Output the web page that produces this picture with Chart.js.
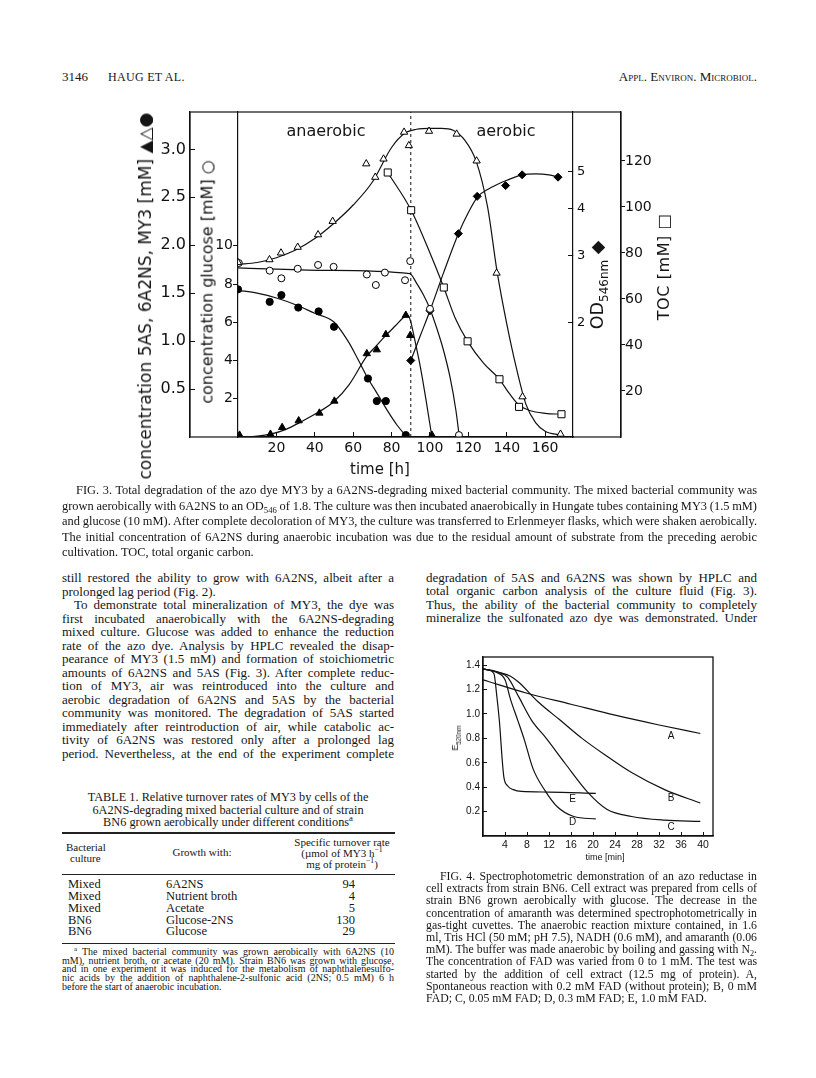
<!DOCTYPE html>
<html>
<head>
<meta charset="utf-8">
<script src="https://cdn.jsdelivr.net/npm/chart.js@4.4.1/dist/chart.umd.min.js"></script>
<style>
  html, body { margin: 0; padding: 0; background: #fff; }
  #page { position: relative; width: 816px; height: 1078px; overflow: hidden; background: #fff; color: #151515; }
  .ln { position: absolute; line-height: 16px; white-space: nowrap; font-family: 'Liberation Serif', serif; }
  .fn { line-height: 9px; }
  .sans { font-family: 'DejaVu Sans', sans-serif; }
  .rot { position: absolute; white-space: nowrap; transform: translate(-50%, -50%) rotate(-90deg); }
  .rule { position: absolute; background: #222; }
  sub, sup { line-height: 0; font-size: 70%; }
  canvas { position: absolute; }
</style>
</head>
<body>
<div id="page">
  <!-- running head -->
  <div class="ln" style="left:62px;top:69px;font-size:13px">3146</div>
  <div class="ln" style="left:108px;top:69px;font-size:12px;letter-spacing:0.3px">HAUG ET AL.</div>
  <div class="ln" style="right:59px;top:69px;font-size:13px;font-variant:small-caps">Appl. Environ. Microbiol.</div>

  <!-- Fig. 3 -->
  <canvas id="fig3" width="680" height="400" style="left:60px;top:90px;width:680px;height:400px"></canvas>
  <div class="sans" style="position:absolute;left:326px;top:130px;transform:translate(-50%,-50%);font-size:16px">anaerobic</div>
  <div class="sans" style="position:absolute;left:506px;top:130px;transform:translate(-50%,-50%);font-size:16px">aerobic</div>
  <div class="sans rot" style="left:145px;top:296px;font-size:17px">concentration 5AS, 6A2NS, MY3 [mM] ▲△●</div>
  <div class="sans rot" style="left:207px;top:282px;font-size:16px">concentration glucose [mM] ○</div>
  <div class="sans rot" style="left:597px;top:285px;font-size:17.5px">OD<sub style="font-size:12px">546nm</sub> ◆</div>
  <div class="sans rot" style="left:663px;top:267px;font-size:16px;letter-spacing:0.6px">TOC [mM] □</div>
  <div class="sans" style="position:absolute;left:380px;top:469px;transform:translate(-50%,-50%);font-size:15px">time [h]</div>

  <div class="ln j" style="left:76px;top:482px;width:681px;font-size:12.4px">FIG. 3. Total degradation of the azo dye MY3 by a 6A2NS-degrading mixed bacterial community. The mixed bacterial community was</div>
  <div class="ln j" style="left:62px;top:497.5px;width:695px;font-size:12.4px">grown aerobically with 6A2NS to an OD<sub>546</sub> of 1.8. The culture was then incubated anaerobically in Hungate tubes containing MY3 (1.5 mM)</div>
  <div class="ln j" style="left:62px;top:513px;width:695px;font-size:12.4px">and glucose (10 mM). After complete decoloration of MY3, the culture was transferred to Erlenmeyer flasks, which were shaken aerobically.</div>
  <div class="ln j" style="left:62px;top:528.5px;width:695px;font-size:12.4px">The initial concentration of 6A2NS during anaerobic incubation was due to the residual amount of substrate from the preceding aerobic</div>
  <div class="ln" style="left:62px;top:544px;font-size:12.4px">cultivation. TOC, total organic carbon.</div>

  <!-- left column text -->
  <div class="ln j" style="left:62px;top:570px;width:332px;font-size:13px">still restored the ability to grow with 6A2NS, albeit after a</div>
  <div class="ln" style="left:62px;top:583.5px;font-size:13px">prolonged lag period (Fig. 2).</div>
  <div class="ln j" style="left:74px;top:597px;width:320px;font-size:13px">To demonstrate total mineralization of MY3, the dye was</div>
  <div class="ln j" style="left:62px;top:610.5px;width:332px;font-size:13px">first incubated anaerobically with the 6A2NS-degrading</div>
  <div class="ln j" style="left:62px;top:624px;width:332px;font-size:13px">mixed culture. Glucose was added to enhance the reduction</div>
  <div class="ln j" style="left:62px;top:637.5px;width:332px;font-size:13px">rate of the azo dye. Analysis by HPLC revealed the disap-</div>
  <div class="ln j" style="left:62px;top:651px;width:332px;font-size:13px">pearance of MY3 (1.5 mM) and formation of stoichiometric</div>
  <div class="ln j" style="left:62px;top:664.5px;width:332px;font-size:13px">amounts of 6A2NS and 5AS (Fig. 3). After complete reduc-</div>
  <div class="ln j" style="left:62px;top:678px;width:332px;font-size:13px">tion of MY3, air was reintroduced into the culture and</div>
  <div class="ln j" style="left:62px;top:691.5px;width:332px;font-size:13px">aerobic degradation of 6A2NS and 5AS by the bacterial</div>
  <div class="ln j" style="left:62px;top:705px;width:332px;font-size:13px">community was monitored. The degradation of 5AS started</div>
  <div class="ln j" style="left:62px;top:718.5px;width:332px;font-size:13px">immediately after reintroduction of air, while catabolic ac-</div>
  <div class="ln j" style="left:62px;top:732px;width:332px;font-size:13px">tivity of 6A2NS was restored only after a prolonged lag</div>
  <div class="ln j" style="left:62px;top:745.5px;width:332px;font-size:13px">period. Nevertheless, at the end of the experiment complete</div>

  <!-- right column text -->
  <div class="ln j" style="left:426px;top:569.5px;width:331px;font-size:13px">degradation of 5AS and 6A2NS was shown by HPLC and</div>
  <div class="ln j" style="left:426px;top:583px;width:331px;font-size:13px">total organic carbon analysis of the culture fluid (Fig. 3).</div>
  <div class="ln j" style="left:426px;top:596.5px;width:331px;font-size:13px">Thus, the ability of the bacterial community to completely</div>
  <div class="ln j" style="left:426px;top:610px;width:331px;font-size:13px">mineralize the sulfonated azo dye was demonstrated. Under</div>

  <!-- Table 1 -->
  <div class="ln" style="left:228px;top:789px;transform:translateX(-50%);font-size:12.3px">TABLE 1. Relative turnover rates of MY3 by cells of the</div>
  <div class="ln" style="left:228px;top:801.5px;transform:translateX(-50%);font-size:12.3px">6A2NS-degrading mixed bacterial culture and of strain</div>
  <div class="ln" style="left:228px;top:814px;transform:translateX(-50%);font-size:12.3px">BN6 grown aerobically under different conditions<sup>a</sup></div>
  <div class="rule" style="left:62px;top:832px;width:333px;height:1.5px"></div>
  <div class="ln" style="left:66px;top:839px;font-size:11px">Bacterial</div>
  <div class="ln" style="left:70px;top:850px;font-size:11px">culture</div>
  <div class="ln" style="left:202px;top:844px;transform:translateX(-50%);font-size:11px">Growth with:</div>
  <div class="ln" style="left:342px;top:834px;transform:translateX(-50%);font-size:11px">Specific turnover rate</div>
  <div class="ln" style="left:342px;top:845px;transform:translateX(-50%);font-size:11px">(µmol of MY3 h<sup>−1</sup></div>
  <div class="ln" style="left:342px;top:856px;transform:translateX(-50%);font-size:11px">mg of protein<sup>−1</sup>)</div>
  <div class="rule" style="left:62px;top:874px;width:333px;height:1.2px"></div>
  <div class="ln" style="left:68px;top:875.5px;font-size:12.5px">Mixed</div>
  <div class="ln" style="left:68px;top:888px;font-size:12.5px">Mixed</div>
  <div class="ln" style="left:68px;top:899.7px;font-size:12.5px">Mixed</div>
  <div class="ln" style="left:68px;top:912px;font-size:12.5px">BN6</div>
  <div class="ln" style="left:68px;top:923px;font-size:12.5px">BN6</div>
  <div class="ln" style="left:166px;top:875.5px;font-size:12.5px">6A2NS</div>
  <div class="ln" style="left:166px;top:888px;font-size:12.5px">Nutrient broth</div>
  <div class="ln" style="left:166px;top:899.7px;font-size:12.5px">Acetate</div>
  <div class="ln" style="left:166px;top:912px;font-size:12.5px">Glucose-2NS</div>
  <div class="ln" style="left:166px;top:923px;font-size:12.5px">Glucose</div>
  <div class="ln" style="right:461px;top:875.5px;font-size:12.5px">94</div>
  <div class="ln" style="right:461px;top:888px;font-size:12.5px">4</div>
  <div class="ln" style="right:461px;top:899.7px;font-size:12.5px">5</div>
  <div class="ln" style="right:461px;top:912px;font-size:12.5px">130</div>
  <div class="ln" style="right:461px;top:923px;font-size:12.5px">29</div>
  <div class="rule" style="left:62px;top:942.5px;width:333px;height:1.2px"></div>
  <div class="ln fn j" style="left:74px;top:946.5px;width:320px;font-size:10px"><sup>a</sup> The mixed bacterial community was grown aerobically with 6A2NS (10</div>
  <div class="ln fn j" style="left:62px;top:955.5px;width:332px;font-size:10px">mM), nutrient broth, or acetate (20 mM). Strain BN6 was grown with glucose,</div>
  <div class="ln fn j" style="left:62px;top:964px;width:332px;font-size:10px">and in one experiment it was induced for the metabolism of naphthalenesulfo-</div>
  <div class="ln fn j" style="left:62px;top:972.5px;width:332px;font-size:10px">nic acids by the addition of naphthalene-2-sulfonic acid (2NS; 0.5 mM) 6 h</div>
  <div class="ln fn" style="left:62px;top:981.5px;font-size:10px">before the start of anaerobic incubation.</div>

  <!-- Fig. 4 -->
  <canvas id="fig4" width="340" height="235" style="left:400px;top:640px;width:340px;height:235px"></canvas>
  <div class="rot" style="left:455px;top:738px;font-size:9px;font-family:'Liberation Sans',sans-serif">E<sub>520nm</sub></div>
  <div style="position:absolute;left:605px;top:857px;transform:translate(-50%,-50%);font-size:9px;font-family:'Liberation Sans',sans-serif;white-space:nowrap">time [min]</div>

  <div class="ln j" style="left:440px;top:868px;width:317px;font-size:11.8px">FIG. 4. Spectrophotometric demonstration of an azo reductase in</div>
  <div class="ln j" style="left:426px;top:880.2px;width:331px;font-size:11.8px">cell extracts from strain BN6. Cell extract was prepared from cells of</div>
  <div class="ln j" style="left:426px;top:892.4px;width:331px;font-size:11.8px">strain BN6 grown aerobically with glucose. The decrease in the</div>
  <div class="ln j" style="left:426px;top:904.6px;width:331px;font-size:11.8px">concentration of amaranth was determined spectrophotometrically in</div>
  <div class="ln j" style="left:426px;top:916.8px;width:331px;font-size:11.8px">gas-tight cuvettes. The anaerobic reaction mixture contained, in 1.6</div>
  <div class="ln j" style="left:426px;top:929px;width:331px;font-size:11.8px">ml, Tris HCl (50 mM; pH 7.5), NADH (0.6 mM), and amaranth (0.06</div>
  <div class="ln j" style="left:426px;top:941.2px;width:331px;font-size:11.8px">mM). The buffer was made anaerobic by boiling and gassing with N<sub>2</sub>.</div>
  <div class="ln j" style="left:426px;top:953.4px;width:331px;font-size:11.8px">The concentration of FAD was varied from 0 to 1 mM. The test was</div>
  <div class="ln j" style="left:426px;top:965.6px;width:331px;font-size:11.8px">started by the addition of cell extract (12.5 mg of protein). A,</div>
  <div class="ln j" style="left:426px;top:977.8px;width:331px;font-size:11.8px">Spontaneous reaction with 0.2 mM FAD (without protein); B, 0 mM</div>
  <div class="ln" style="left:426px;top:990px;font-size:11.8px">FAD; C, 0.05 mM FAD; D, 0.3 mM FAD; E, 1.0 mM FAD.</div>
</div>

<script>
// ---------- Fig. 3 data (time in h) ----------
const xTicks3 = [20, 40, 60, 80, 100, 120, 140, 160];
const y5Ticks = [0.5, 1.0, 1.5, 2.0, 2.5, 3.0];
const glucTicks = [2, 4, 6, 8, 10];
const odTicks = [2, 3, 4, 5];
const tocTicks = [20, 40, 60, 80, 100, 120];

// MY3, filled circles
const my3T = [0, 16.5, 22.6, 31.4, 42, 50, 67.7, 72.3, 77, 87.4];
const my3V = [1.54, 1.41, 1.48, 1.35, 1.31, 1.15, 0.61, 0.375, 0.375, 0.02];
const my3FitT = [0, 10, 20, 30, 40, 50, 57, 62, 67.7, 72.3, 78, 83, 88];
const my3FitV = [1.53, 1.50, 1.45, 1.38, 1.29, 1.20, 1.01, 0.83, 0.61, 0.46, 0.27, 0.12, 0];

// 5AS, filled triangles
const as5T = [0.8, 16.9, 23, 31.6, 42.4, 50.2, 67.1, 72.3, 77, 87.4, 89.7, 101];
const as5V = [0.02, 0.03, 0.10, 0.17, 0.25, 0.375, 0.87, 0.91, 1.07, 1.27, 1.06, 0.02];
const as5FitT = [0, 10, 17, 25, 32, 42, 50, 58, 67, 72, 77, 82, 87, 88.5, 90, 92, 95, 98, 101];
const as5FitV = [0, 0.01, 0.03, 0.08, 0.15, 0.26, 0.37, 0.55, 0.84, 0.95, 1.06, 1.16, 1.26, 1.27, 1.20, 1.02, 0.73, 0.38, 0];

// 6A2NS, open triangles
const a2T = [0, 16.4, 22.4, 31.1, 41.7, 49.3, 66.8, 71.5, 75.8, 86.5, 89, 99.5, 113.9, 124.3, 134.7, 148.2, 168];
const a2V = [1.82, 1.85, 1.92, 1.98, 2.11, 2.25, 2.85, 2.71, 2.90, 3.18, 3.04, 3.19, 3.16, 2.88, 1.71, 0.42, 0.03];
const a2FitT = [0, 10, 20, 30, 40, 50, 60, 70, 80, 87, 93, 100, 106, 112, 118, 124, 130, 135, 140, 145, 150, 155, 160, 168];
const a2FitV = [1.80, 1.82, 1.87, 1.95, 2.07, 2.23, 2.42, 2.66, 3.02, 3.17, 3.21, 3.22, 3.22, 3.20, 3.10, 2.88, 2.40, 1.72, 1.18, 0.72, 0.34, 0.15, 0.06, 0.02];

// glucose, open circles
const glucT = [0.4, 16.5, 22.6, 31.1, 41.7, 49.8, 67.1, 71.8, 76.5, 87, 89.7, 100, 115.1];
const glucV = [9.1, 8.7, 8.3, 8.8, 9.0, 8.9, 8.5, 7.95, 8.6, 8.2, 9.2, 6.7, 0.1];
const glucFitT = [0, 45, 89.5, 93, 96.5, 100, 103.5, 107, 110.5, 113.5, 115.3];
const glucFitV = [8.85, 8.72, 8.55, 8.05, 7.45, 6.7, 5.7, 4.55, 3.1, 1.4, 0];

// OD546, filled diamonds
const odT = [90, 100, 114.8, 124.6, 139.4, 148, 166.7];
const odV = [1.59, 2.15, 3.43, 4.30, 4.59, 4.90, 4.83];
const odFitT = [90, 95, 100, 107, 115, 120, 125, 130, 135, 140, 148, 155, 162, 167];
const odFitV = [1.59, 1.85, 2.15, 2.7, 3.45, 3.9, 4.3, 4.48, 4.62, 4.74, 4.90, 4.93, 4.90, 4.83];

// TOC, open squares
const tocT = [78, 90.2, 107.2, 119.6, 136.2, 146.4, 168.5];
const tocV = [115, 98.6, 65, 41.6, 25.1, 13.1, 9.9];
const tocFitT = [78, 90.2, 100, 107.2, 113, 119.6, 128, 136.2, 141, 146.4, 152, 160, 168.5];
const tocFitV = [115, 98.6, 80, 65, 52, 41.6, 32, 25.1, 19.3, 13.8, 11.5, 10.3, 9.9];

const switchT = [90, 90];
const switchV = [0, 3.39];

// ---------- Fig. 4 data (time in min, E520nm) ----------
const xTicks4 = [4, 8, 12, 16, 20, 24, 28, 32, 36, 40];
const yTicks4 = [0.2, 0.4, 0.6, 0.8, 1.0, 1.2, 1.4];
const aT = [0, 8, 16, 24, 32, 39.5];
const aV = [1.28, 1.17, 1.08, 0.99, 0.91, 0.84];
const bT = [0, 3, 5, 6.5, 10, 14, 18, 22, 27, 33, 39.5];
const bV = [1.37, 1.34, 1.31, 1.26, 1.10, 0.95, 0.80, 0.67, 0.52, 0.38, 0.27];
const cT = [0, 3, 4.5, 6.5, 8.8, 11.5, 15, 19, 22.5, 27, 33, 39.5];
const cV = [1.37, 1.34, 1.30, 1.14, 0.95, 0.80, 0.59, 0.36, 0.22, 0.16, 0.13, 0.12];
const dT = [0, 2.5, 4, 5, 6.3, 7.5, 9.1, 11.3, 13.5, 16.5, 20.5];
const dV = [1.37, 1.34, 1.28, 1.12, 0.95, 0.79, 0.55, 0.37, 0.24, 0.16, 0.14];
const eT = [0, 1, 2, 2.5, 3, 3.5, 3.8, 4.5, 5.5, 7, 12, 20.5];
const eV = [1.37, 1.36, 1.33, 1.15, 0.93, 0.62, 0.48, 0.41, 0.38, 0.365, 0.36, 0.35];
const curveNames = ['A', 'B', 'C', 'D', 'E'];
const nameAtT = [34.2, 34.2, 34.2, 16.3, 16.3];
const nameAtV = [0.82, 0.31, 0.07, 0.11, 0.30];

const pts = (xs, ys) => xs.map((x, i) => ({ x: x, y: ys[i] }));

function marks(xs, ys, axis, style, filled, r) {
    return {
        data: pts(xs, ys), yAxisID: axis, showLine: false,
        pointStyle: style, pointRadius: r, pointHoverRadius: r,
        pointBackgroundColor: filled ? '#000' : '#fff',
        pointBorderColor: '#000', pointBorderWidth: 1
    };
}
function curve(xs, ys, axis) {
    return {
        data: pts(xs, ys), yAxisID: axis, showLine: true,
        pointRadius: 0, borderColor: '#111', borderWidth: 1.2,
        cubicInterpolationMode: 'monotone', fill: false
    };
}

const ink = '#111';
const sans = 'DejaVu Sans';

function axisY(pos, min, max, list, width, tl, pad, size, fmt, type) {
    return {
        type: type || 'linear', position: pos, min: min, max: max,
        afterBuildTicks: s => { s.ticks = list.map(v => ({ value: v })); },
        afterFit: s => { s.width = width; },
        grid: { drawOnChartArea: false, tickLength: tl, color: ink, lineWidth: 1 },
        border: { color: ink, width: 1.2 },
        ticks: { autoSkip: false, padding: pad, color: ink, font: { family: sans, size: size }, callback: fmt }
    };
}

const frame3 = {
    id: 'frame3',
    afterDraw(c) {
        const ctx = c.ctx, a = c.chartArea;
        const l = c.scales.y5.right, r = c.scales.yToc.left;
        ctx.save();
        ctx.strokeStyle = ink;
        ctx.lineWidth = 1.2;
        ctx.strokeRect(l, a.top, r - l, a.bottom - a.top);
        ctx.restore();
    }
};

new Chart(document.getElementById('fig3'), {
    type: 'scatter',
    data: {
        datasets: [
            marks(my3T, my3V, 'y5', 'circle', true, 3.6),
            marks(as5T, as5V, 'y5', 'triangle', true, 4.2),
            marks(a2T, a2V, 'y5', 'triangle', false, 4.2),
            marks(glucT, glucV, 'yG', 'circle', false, 3.5),
            marks(odT, odV, 'yOD', 'rectRot', true, 4),
            marks(tocT, tocV, 'yToc', 'rect', false, 5),
            curve(my3FitT, my3FitV, 'y5'),
            curve(as5FitT, as5FitV, 'y5'),
            curve(a2FitT, a2FitV, 'y5'),
            curve(glucFitT, glucFitV, 'yG'),
            curve(odFitT, odFitV, 'yOD'),
            curve(tocFitT, tocFitV, 'yToc'),
            Object.assign(curve(switchT, switchV, 'y5'), { borderDash: [3, 3], borderWidth: 1, cubicInterpolationMode: 'default' })
        ]
    },
    options: {
        responsive: false,
        animation: false,
        events: [],
        layout: { padding: { left: 90, right: 79, top: 22, bottom: 27 } },
        plugins: { legend: { display: false }, tooltip: { enabled: false } },
        scales: {
            x: {
                type: 'linear', position: 'bottom', min: 0, max: 174.5,
                afterBuildTicks: s => { s.ticks = xTicks3.map(v => ({ value: v })); },
                afterFit: s => { s.height = 26; },
                grid: { drawOnChartArea: false, tickLength: -5, color: ink, lineWidth: 1 },
                border: { color: ink, width: 1.2 },
                ticks: { autoSkip: false, maxRotation: 0, padding: 8, color: ink, font: { family: sans, size: 14 } }
            },
            yG: axisY('left', 0, 17.0, glucTicks, 48, 5, 0, 14, v => String(v)),
            y5: axisY('left', 0, 3.39, y5Ticks, 40, -5, 9, 16, v => v.toFixed(1)),
            yOD: axisY('right', 1, 7.17, odTicks, 48, -5, 9, 13, v => String(v), 'logarithmic'),
            yToc: axisY('right', 0, 141.3, tocTicks, 40, 4, 0, 14, v => String(v))
        }
    },
    plugins: [frame3]
});

// ---------- Fig. 4 ----------
const frame4 = {
    id: 'frame4',
    afterDraw(c) {
        const ctx = c.ctx, a = c.chartArea, sx = c.scales.x, sy = c.scales.y;
        ctx.save();
        ctx.strokeStyle = ink;
        ctx.lineWidth = 1.3;
        ctx.strokeRect(a.left, a.top, a.right - a.left, a.bottom - a.top);
        ctx.fillStyle = ink;
        ctx.font = '10px "Liberation Sans"';
        ctx.textAlign = 'center';
        ctx.textBaseline = 'middle';
        curveNames.forEach((n, i) => {
            ctx.fillText(n, sx.getPixelForValue(nameAtT[i]), sy.getPixelForValue(nameAtV[i]));
        });
        ctx.restore();
    }
};

new Chart(document.getElementById('fig4'), {
    type: 'scatter',
    data: {
        datasets: [
            curve(aT, aV, 'y'), curve(bT, bV, 'y'), curve(cT, cV, 'y'),
            curve(dT, dV, 'y'), curve(eT, eV, 'y')
        ]
    },
    options: {
        responsive: false,
        animation: false,
        events: [],
        layout: { padding: { left: 53, right: 27, top: 17, bottom: 19 } },
        plugins: { legend: { display: false }, tooltip: { enabled: false } },
        scales: {
            x: {
                type: 'linear', min: 0, max: 41.8,
                afterBuildTicks: s => { s.ticks = xTicks4.map(v => ({ value: v })); },
                afterFit: s => { s.height = 20; },
                grid: { drawOnChartArea: false, tickLength: -4, color: ink },
                border: { color: ink, width: 1.3 },
                ticks: { autoSkip: false, maxRotation: 0, padding: 7, color: ink, font: { family: 'Liberation Sans', size: 10.5 } }
            },
            y: {
                type: 'linear', min: 0, max: 1.467,
                afterBuildTicks: s => { s.ticks = yTicks4.map(v => ({ value: v })); },
                afterFit: s => { s.width = 30; },
                grid: { drawOnChartArea: false, tickLength: -4, color: ink },
                border: { color: ink, width: 1.3 },
                ticks: { autoSkip: false, padding: 7, color: ink, font: { family: 'Liberation Sans', size: 10 }, callback: v => v.toFixed(1) }
            }
        }
    },
    plugins: [frame4]
});

// justify single lines like the printed columns
function justify() {
    document.querySelectorAll('.j').forEach(el => {
        const target = parseFloat(el.style.width);
        let span = el.querySelector('span.in');
        if (!span) {
            span = document.createElement('span');
            span.className = 'in';
            span.innerHTML = el.innerHTML;
            el.innerHTML = '';
            el.appendChild(span);
        }
        span.style.wordSpacing = '0px';
        const w = span.getBoundingClientRect().width;
        const n = (span.textContent.match(/ /g) || []).length;
        if (n) span.style.wordSpacing = ((target - w) / n) + 'px';
    });
}
justify();
if (document.fonts) document.fonts.ready.then(justify);
</script>
</body>
</html>
